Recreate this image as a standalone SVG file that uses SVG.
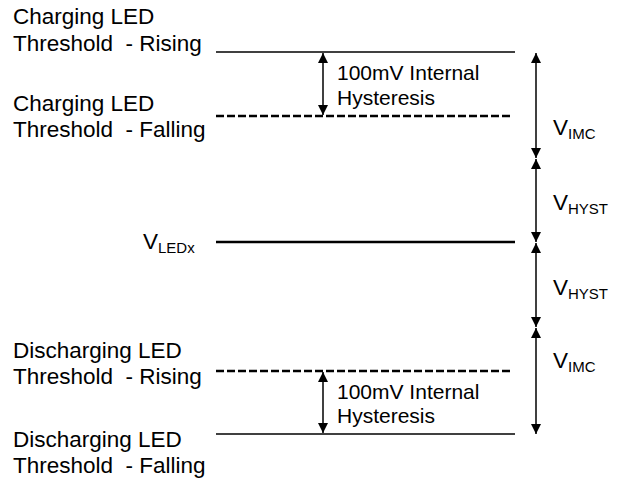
<svg xmlns="http://www.w3.org/2000/svg" width="619" height="478" viewBox="0 0 619 478">
<defs>
<marker id="ah" viewBox="0 0 10 10" refX="10" refY="5" markerWidth="10" markerHeight="10" markerUnits="userSpaceOnUse" orient="auto-start-reverse">
<path d="M0,0 L10,5 L0,10 Z" fill="#000"/>
</marker>
<style>
text{font-family:"Liberation Sans",Arial,sans-serif;font-size:22.5px;fill:#000;white-space:pre}
.note{font-size:21px}
.sub{font-size:15px}
.thin{stroke:#000;stroke-width:1.3;fill:none}
.thick{stroke:#000;stroke-width:2.5;fill:none}
.dash{stroke:#000;stroke-width:2.6;stroke-dasharray:8 3;fill:none}
.arr{stroke:#000;stroke-width:1.5;fill:none;marker-start:url(#ah);marker-end:url(#ah)}
</style>
</defs>
<g id="connectors">
<line class="thin" x1="216" y1="52" x2="515" y2="52"/>
<line class="dash" x1="216" y1="116" x2="513" y2="116"/>
<line class="thick" x1="216" y1="242" x2="515" y2="242"/>
<line class="dash" x1="216" y1="371" x2="513" y2="371"/>
<line class="thin" x1="216" y1="434" x2="515" y2="434"/>
<line class="arr" x1="323" y1="53" x2="323" y2="115"/>
<line class="arr" x1="323" y1="372" x2="323" y2="433"/>
<line class="arr" x1="536" y1="53" x2="536" y2="158"/>
<line class="arr" x1="536" y1="159" x2="536" y2="242"/>
<line class="arr" x1="536" y1="243" x2="536" y2="327"/>
<line class="arr" x1="536" y1="328" x2="536" y2="434"/>
</g>
<g id="charging-rising"><text x="13" y="24">Charging LED</text><text x="13" y="51" xml:space="preserve">Threshold  - Rising</text></g>
<g id="charging-falling"><text x="13" y="111">Charging LED</text><text x="13" y="137" xml:space="preserve">Threshold  - Falling</text></g>
<g id="vledx"><text x="143" y="249">V<tspan class="sub" dy="4">LEDx</tspan></text></g>
<g id="discharging-rising"><text x="13" y="358">Discharging LED</text><text x="13" y="384" xml:space="preserve">Threshold  - Rising</text></g>
<g id="discharging-falling"><text x="13" y="447">Discharging LED</text><text x="13" y="473" xml:space="preserve">Threshold  - Falling</text></g>
<g id="hyst-top"><text class="note" x="337" y="80">100mV Internal</text><text class="note" x="337" y="105">Hysteresis</text></g>
<g id="hyst-bottom"><text class="note" x="337" y="399">100mV Internal</text><text class="note" x="337" y="423">Hysteresis</text></g>
<g id="vimc-top"><text x="553" y="135">V<tspan class="sub" dy="4">IMC</tspan></text></g>
<g id="vhyst-top"><text x="553" y="210">V<tspan class="sub" dy="4">HYST</tspan></text></g>
<g id="vhyst-bottom"><text x="553" y="295">V<tspan class="sub" dy="4">HYST</tspan></text></g>
<g id="vimc-bottom"><text x="553" y="368">V<tspan class="sub" dy="4">IMC</tspan></text></g>
</svg>
